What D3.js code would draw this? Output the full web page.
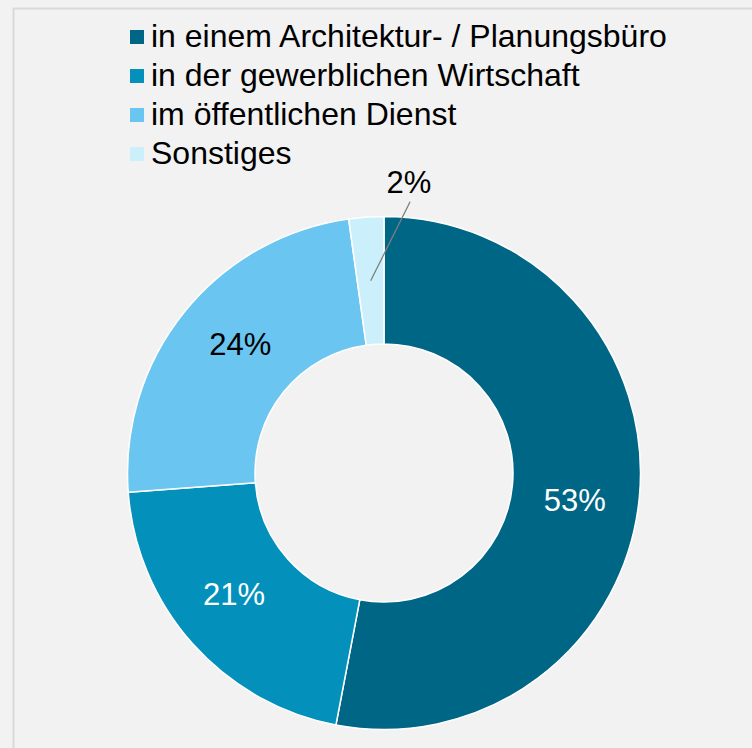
<!DOCTYPE html>
<html>
<head>
<meta charset="utf-8">
<script src="https://cdn.jsdelivr.net/npm/d3@7"></script>
<style>
  html, body { margin: 0; padding: 0; background: #f2f2f2; }
  svg { display: block; font-family: "Liberation Sans", Arial, sans-serif; }
</style>
</head>
<body>
<svg id="chart" width="752" height="748"></svg>
<script>
const categories = [
  "in einem Architektur- / Planungsbüro",
  "in der gewerblichen Wirtschaft",
  "im öffentlichen Dienst",
  "Sonstiges"
];
const shares = [53, 20.8, 24, 2.2];
const colors = ["#006685", "#0391bc", "#6ac6f0", "#ccf0fb"];
const labelColors = ["#fff", "#fff", "#000", "#000"];

let svg = d3.select("#chart");
let width = 752, height = 748;

// frame
svg.append("rect")
  .attr("x", 13.5).attr("y", 8.5)
  .attr("width", width + 10).attr("height", height + 10)
  .attr("fill", "#f2f2f2")
  .attr("stroke", "#d9d9d9")
  .attr("stroke-width", 2);

let data = categories.map((c, i) => ({ name: c, value: shares[i], color: colors[i], label: labelColors[i] }));
let total = d3.sum(data, (d) => d.value);

let cx = 384, cy = 473;
let outerR = 256.5, innerR = 129;

let pie = d3.pie().sort(null).value((d) => d.value);
let arc = d3.arc().innerRadius(innerR).outerRadius(outerR);
let arcs = pie(data);

let g = svg.append("g").attr("transform", `translate(${cx},${cy})`);

g.selectAll(".slice")
  .data(arcs)
  .enter()
  .append("path")
  .attr("class", "slice")
  .attr("d", arc)
  .attr("fill", (d) => d.data.color)
  .attr("stroke", "#fff")
  .attr("stroke-width", 1.5)
  .attr("stroke-linejoin", "round");

let fmt = (v) => Math.round(v / total * 100) + "%";
let polar = (r, a) => [r * Math.sin(a), -r * Math.cos(a)];
let labelR = (innerR + outerR) / 2;

// labels inside ring
arcs.forEach((d) => {
  let mid = (d.startAngle + d.endAngle) / 2;
  let c = arc.centroid(d);
  if (d.endAngle - d.startAngle > 0.3) {
    let p = polar(labelR, mid + 0.05);
    g.append("text")
      .attr("x", p[0])
      .attr("y", p[1])
      .attr("text-anchor", "middle")
      .attr("dominant-baseline", "central")
      .attr("font-size", 31)
      .attr("fill", d.data.label)
      .text(fmt(d.data.value));
  } else {
    // small slice: label outside with leader line
    let rel = mid - 2 * Math.PI;
    let lineEnd = polar(outerR + 16, rel + 0.165);
    let textPos = polar(outerR + 35, rel + 0.155);
    g.append("line")
      .attr("x1", c[0]).attr("y1", c[1])
      .attr("x2", lineEnd[0]).attr("y2", lineEnd[1])
      .attr("stroke", "#7f7f7f")
      .attr("stroke-width", 1.3);
    g.append("text")
      .attr("x", textPos[0])
      .attr("y", textPos[1])
      .attr("text-anchor", "middle")
      .attr("dominant-baseline", "central")
      .attr("font-size", 31)
      .attr("fill", d.data.label)
      .text(fmt(d.data.value));
  }
});

// legend
let legend = svg.append("g").attr("transform", "translate(130,30)");
let rows = legend.selectAll(".row")
  .data(data)
  .enter()
  .append("g")
  .attr("class", "row")
  .attr("transform", (d, i) => `translate(0,${i * 39})`);
rows.append("rect")
  .attr("width", 14).attr("height", 14)
  .attr("fill", (d) => d.color);
rows.append("text")
  .attr("x", 21)
  .attr("y", 17)
  .attr("font-size", 32)
  .attr("fill", "#000")
  .text((d) => d.name);
</script>
</body>
</html>
